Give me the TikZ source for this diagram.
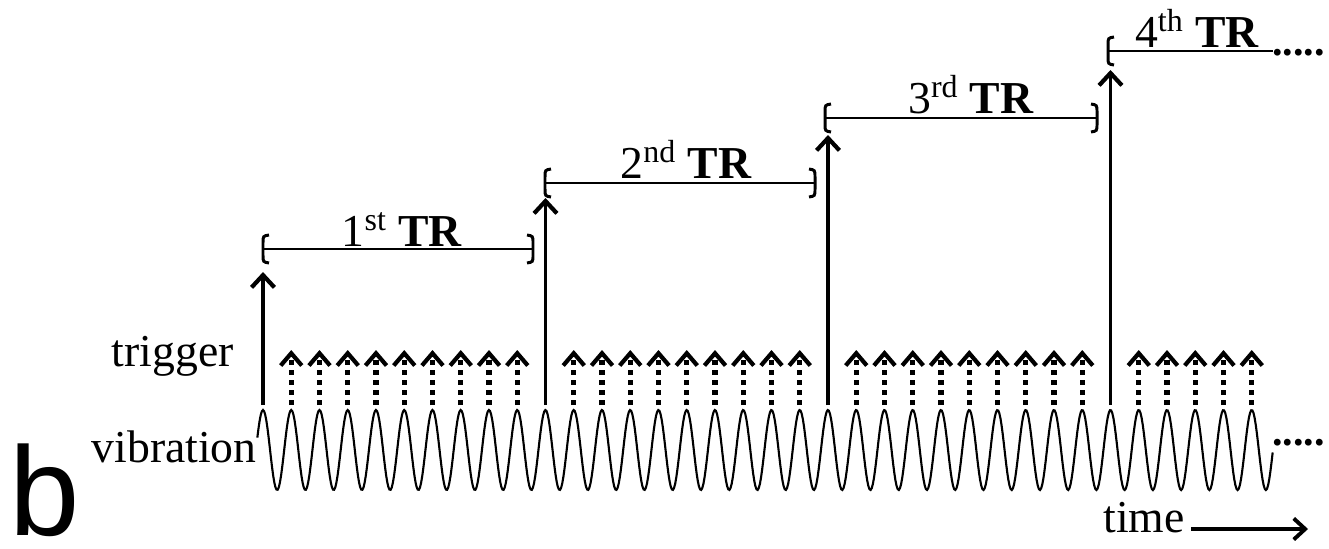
\documentclass[tikz,border=0pt]{standalone}
\usepackage{fontspec}
\setmainfont{Liberation Serif}
\newfontfamily\panelfont{Liberation Sans}
\usetikzlibrary{arrows.meta}
\newcommand{\lcap}[2]{%
  \draw[brk] ({#1+6},{#2-14}) .. controls ({#1},{#2-13}) .. ({#1},{#2-6})
    -- ({#1},{#2+6}) .. controls ({#1},{#2+13}) .. ({#1+6},{#2+14});
}
\newcommand{\rcap}[2]{%
  \draw[brk] ({#1-6},{#2-14}) .. controls ({#1},{#2-13}) .. ({#1},{#2-6})
    -- ({#1},{#2+6}) .. controls ({#1},{#2+13}) .. ({#1-6},{#2+14});
}

\begin{document}
\begin{tikzpicture}[
      x=0.02cm, y=-0.02cm,
      lab/.style={inner sep=0pt, font=\fontsize{26}{28}\selectfont},
      trlab/.style={inner sep=0pt, anchor=base, font=\fontsize{26}{28}\selectfont},
      brk/.style={line width=1.7pt},
      wave/.style={line width=1.2pt},
      trarrow/.style={line width=2pt, -{Straight Barb[length=7pt,width=13pt,line width=2.4pt]}},
      trigarrow/.style={line width=3pt, dash pattern=on 2.8pt off 2.9pt,
        -{Straight Barb[length=7pt,width=12pt,line width=2.4pt]}},
      timearrow/.style={line width=1.8pt, -{Straight Barb[length=6.5pt,width=12pt,line width=2.2pt]}}
    ]
      \useasboundingbox (0,0) rectangle (1329,548);

      % vibration
      \draw[wave] plot[domain=-0.2:35.75, samples=900, variable=\t]
        ({263+28.25*\t},{450-40*cos(360*\t)});

      % TR starts
      \foreach \i/\ty in {0/272,1/198,2/135,3/70} {
        \coordinate (foot\i) at ({263+282.5*\i},405);
        \coordinate (head\i) at ({263+282.5*\i},\ty);
        \draw[trarrow] (foot\i) -- (head\i);
      }

      % triggers
      \foreach \g/\n in {0/9,1/9,2/9,3/5} {
        \foreach \j in {1,...,\n} {
          \coordinate (tf\g-\j) at ({263+282.5*\g+28.25*\j},405);
          \coordinate (th\g-\j) at ({263+282.5*\g+28.25*\j},350);
          \draw[trigarrow] (tf\g-\j) -- (th\g-\j);
        }
      }

      % TR brackets
      \lcap{263}{249} \draw[brk] (263,249) -- (533,249); \rcap{533}{249}
      \lcap{545}{183} \draw[brk] (545,183) -- (815,183); \rcap{815}{183}
      \lcap{825}{118} \draw[brk] (825,118) -- (1097,118); \rcap{1097}{118}
      \lcap{1108}{51} \draw[brk] (1108,51) -- (1273,51);

      \node[trlab] (tr1) at (402,246) {1\textsuperscript{st} \textbf{TR}};
      \node[trlab] (tr2) at (686,178) {2\textsuperscript{nd} \textbf{TR}};
      \node[trlab] (tr3) at (971,113) {3\textsuperscript{rd} \textbf{TR}};
      \node[trlab] (tr4) at (1197,47) {4\textsuperscript{th} \textbf{TR}};

      \node[lab, anchor=base west, font=\bfseries\fontsize{24}{26}\selectfont] (moretr) at (1272,55) {.....};
      \node[lab, anchor=base west, font=\bfseries\fontsize{24}{26}\selectfont] (morevib) at (1272,445) {.....};

      \node[lab, anchor=base east] (trig) at (234,366) {trigger};
      \node[lab, anchor=base east] (vib) at (257,462) {vibration};

      \node[lab, anchor=base west] (time) at (1103,532) {time};
      \coordinate (tbeg) at (1191,529);
      \coordinate (tend) at (1308,529);
      \draw[timearrow] (tbeg) -- (tend);

      \node[inner sep=0pt, anchor=base west, font=\panelfont\fontsize{72}{72}\selectfont] (panel) at (9,535) {b};
    \end{tikzpicture}
\end{document}
